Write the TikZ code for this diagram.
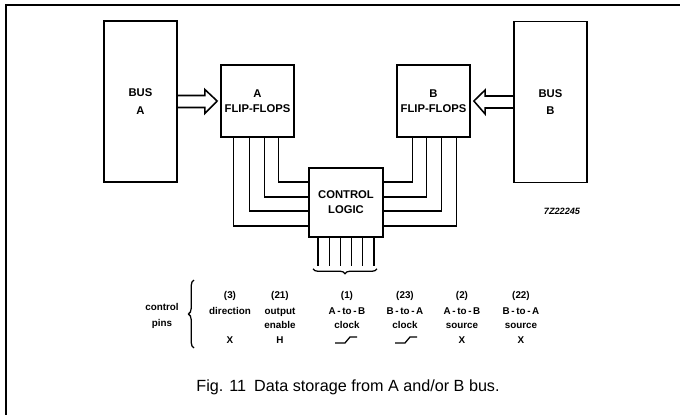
\documentclass[tikz,border=0pt]{standalone}
\usepackage{fontspec}
\setmainfont{Liberation Sans}
\usetikzlibrary{positioning,calc,decorations.pathreplacing}
\newcommand{\boxfont}{\fontsize{8}{10.5}\selectfont\bfseries}
\newcommand{\pinfont}{\fontsize{7}{8}\selectfont\bfseries}
\tikzset{
  block/.style={draw, line width=1.2pt, align=center, font=\boxfont,
    minimum width=1.825cm, inner sep=0pt},
  busbox/.style={block, minimum height=4.025cm},
  ffbox/.style={block, minimum height=1.8cm},
  hollow/.style={line width=1.1pt, line join=miter},
  wire/.style={line width=0.9pt},
  pintext/.style={font=\pinfont, inner sep=0pt, anchor=base},
}

\begin{document}
\begin{tikzpicture}[x=0.025cm, y=-0.025cm]
  \useasboundingbox (0,0) rectangle (680,415);

  % frame
  \draw[line width=1.3pt] (680,5) -- (6,5) -- (6,415);

  % blocks
  \node[busbox] (busA) at (140.5,101.5) {BUS\\[2pt]A};
  \node[ffbox] (ffA) at (257.5,101) {A\\FLIP-FLOPS};
  \node[ffbox] (ffB) at (433.5,101) {B\\FLIP-FLOPS};
  \node[busbox] (busB) at (550.5,102) {BUS\\[2pt]B};
  \node[block, minimum width=1.85cm, minimum height=1.725cm] (ctrl) at (346,202.5)
    {CONTROL\\LOGIC};

  % hollow data arrows
  \draw[hollow] ($(busA.east)+(0,-6)$) -- ++(27,0) -- ++(0,-6)
    -- ($(ffA.west)+(-3,0)$) -- ($(busA.east)+(27,12)$) -- ++(0,-6) -- ++(-27,0);
  \draw[hollow] ($(busB.west)+(0,-6)$) -- ++(-28,0) -- ++(0,-6)
    -- ($(ffB.east)+(3,0)$) -- ($(busB.west)+(-28,12)$) -- ++(0,-6) -- ++(28,0);

  % wires to control logic
  \foreach \dx/\dy in {13/23.5, 29/8.5, 44/-5.5, 58/-20.5}
    \draw[wire] ($(ffA.south west)+(\dx,0)$) |- ($(ctrl.west)+(0,\dy)$);
  \foreach \dx/\dy in {-14/23.5, -29/8.5, -44/-5.5, -58/-20.5}
    \draw[wire] ($(ffB.south east)+(\dx,0)$) |- ($(ctrl.east)+(0,\dy)$);

  % control pins
  \foreach \i/\dx in {1/-28, 2/-16.8, 3/-5.6, 4/5.6, 5/16.8, 6/28} {
    \coordinate (pin\i) at ($(ctrl.south)+(\dx,28)$);
    \draw[wire] ($(ctrl.south)+(\dx,0)$) -- (pin\i);
  }
  \draw[wire, decorate, decoration={brace, mirror, amplitude=0.12cm}]
    ($(pin1)+(-5,3)$) -- ($(pin6)+(3,3)$);

  \node[font=\fontsize{6.5}{8}\selectfont\bfseries\itshape] (code) at (562,211) {7Z22245};

  % pin table
  \node[pintext] (ctl) at (162,310) {control};
  \node[pintext] (pins) at (162,326) {pins};
  \coordinate (brtop) at (194,280);
  \coordinate (brbot) at (194,348);
  \draw[wire, decorate, decoration={brace, amplitude=0.14cm}] (brbot) -- (brtop);

  \foreach \n/\x/\num/\la/\lb/\st in {
      c1/230/(3)/direction//X,
      c2/280/(21)/output/enable/H,
      c3/347/(1)/A\,-\,to\,-\,B/clock/,
      c4/405/(23)/B\,-\,to\,-\,A/clock/,
      c5/462/(2)/A\,-\,to\,-\,B/source/X,
      c6/521/(22)/B\,-\,to\,-\,A/source/X} {
    \node[pintext] (\n num) at (\x,298) {\num};
    \node[pintext] (\n a) at (\x,314) {\la};
    \node[pintext] (\n b) at (\x,328) {\lb};
    \node[pintext] (\n st) at (\x,343) {\st};
  }
  % clock edges
  \foreach \x in {346,406}
    \draw[wire] (\x-11,343) -- (\x-1,343) -- (\x+4,337) -- (\x+11,337);

  % caption
  \node[font=\fontsize{11.5}{13}\selectfont] (caption) at (348,387)
    {Fig. 11\enspace Data storage from A and/or B bus.};
\end{tikzpicture}
\end{document}
